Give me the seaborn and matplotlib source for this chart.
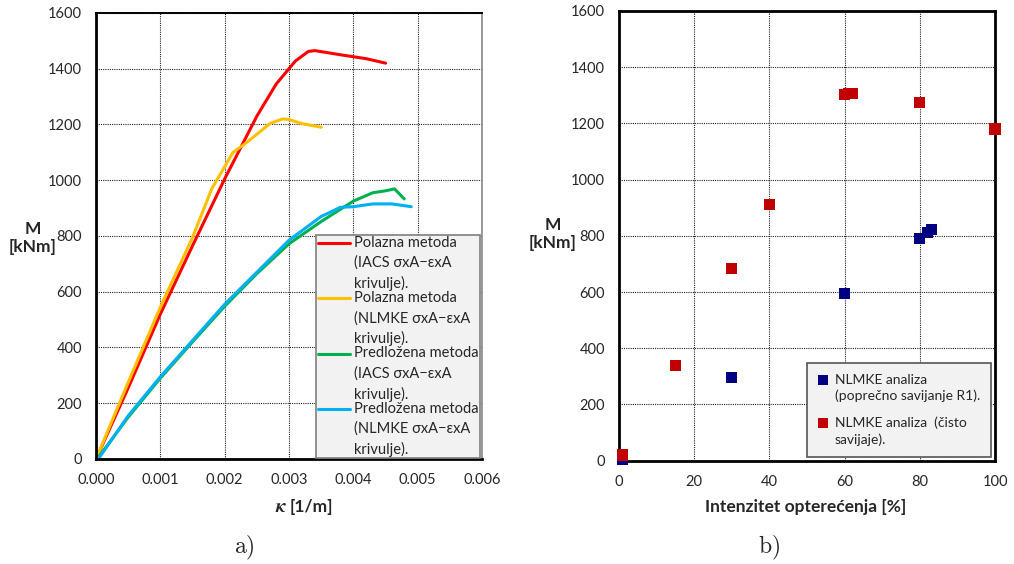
import numpy as np
import pandas as pd
import matplotlib
matplotlib.use("Agg")
import matplotlib.pyplot as plt
import seaborn as sns

# --- data (a) moment-curvature curves
red_k = [0.0, 0.0005, 0.001, 0.0015, 0.002, 0.0025, 0.0028, 0.0031, 0.0033, 0.0034, 0.0038, 0.0042, 0.0045]
red_m = [0, 255, 520, 765, 1005, 1230, 1345, 1428, 1462, 1465, 1450, 1436, 1420]
yel_k = [0.0, 0.0005, 0.001, 0.0015, 0.0018, 0.00213, 0.0023, 0.0025, 0.0027, 0.0029, 0.003, 0.0032, 0.0035]
yel_m = [0, 275, 545, 795, 970, 1100, 1128, 1165, 1203, 1220, 1218, 1203, 1190]
grn_k = [0.00005, 0.0005, 0.001, 0.0015, 0.002, 0.0025, 0.003, 0.0035, 0.004, 0.0043, 0.0045, 0.00464, 0.00479]
grn_m = [10, 150, 290, 420, 548, 665, 772, 852, 925, 955, 962, 969, 933]
cyn_k = [0.00006, 0.0005, 0.001, 0.0015, 0.002, 0.0025, 0.003, 0.0035, 0.0038, 0.004, 0.0043, 0.0046, 0.0049]
cyn_m = [8, 155, 295, 425, 555, 670, 785, 870, 903, 905, 915, 915, 905]

# --- (b) moment vs load intensity
blue_x = [1, 30, 60, 80, 82, 83]
blue_y = [5, 297, 595, 792, 813, 822]
redb_x = [1, 15, 30, 40, 60, 61, 62, 80, 100]
redb_y = [20, 340, 685, 912, 1302, 1305, 1308, 1275, 1180]

labels_a = [
    "Polazna metoda\n(IACS σxA\u2212εxA\nkrivulje).",
    "Polazna metoda\n(NLMKE σxA\u2212εxA\nkrivulje).",
    "Predložena metoda\n(IACS σxA\u2212εxA\nkrivulje).",
    "Predložena metoda\n(NLMKE σxA\u2212εxA\nkrivulje).",
]
colors_a = ["#ff0000", "#ffc000", "#00b050", "#00b0f0"]
labels_b = ["NLMKE analiza\n(poprečno savijanje R1).", "NLMKE analiza  (čisto\nsavijaje)."]
colors_b = ["#000080", "#c00000"]

sns.set_style("white")
plt.rcParams["font.family"] = ["Lato", "DejaVu Sans"]
plt.rcParams["mathtext.fontset"] = "cm"

fig = plt.figure(figsize=(10.14, 5.64), dpi=100)
ax1 = fig.add_axes([0.0947, 0.1862, 0.3807, 0.7908])
ax2 = fig.add_axes([0.6105, 0.1832, 0.3708, 0.7973])

series = [(red_k, red_m), (yel_k, yel_m), (grn_k, grn_m), (cyn_k, cyn_m)]
for (k, m), lab, col in zip(series, labels_a, colors_a):
    df = pd.DataFrame({"k": k, "M": m})
    sns.lineplot(data=df, x="k", y="M", ax=ax1, color=col, lw=2.2, sort=False, label=lab)

for (x, y), lab, col in zip([(blue_x, blue_y), (redb_x, redb_y)], labels_b, colors_b):
    df = pd.DataFrame({"x": x, "y": y})
    sns.scatterplot(data=df, x="x", y="y", ax=ax2, color=col, marker="s", s=64,
                    edgecolor="none", label=lab, zorder=3, clip_on=False)

def style(ax):
    ax.set_ylim(0, 1600)
    ax.set_yticks(range(0, 1601, 200))
    ax.grid(True, ls=(0, (1, 1)), color="#222222", lw=0.8)
    ax.tick_params(length=0, labelsize=10.5, pad=10)
    for s in ax.spines.values():
        s.set_color("black")
        s.set_linewidth(2)
    ax.set_ylabel("")
    ax.set_xlabel("")

style(ax1)
ax1.set_xlim(0, 0.006)
ax1.set_xticks(np.arange(0, 0.0061, 0.001))
ax1.set_xticklabels([f"{v:.3f}" for v in np.arange(0, 0.0061, 0.001)])
ax1.spines["right"].set_color("#888888")
ax1.spines["right"].set_linewidth(1.2)
ax1.spines["top"].set_linewidth(1.4)

style(ax2)
ax2.set_xlim(0, 100)
ax2.set_xticks(range(0, 101, 20))

fs1, ls1 = 10.5, 1.5
leg1 = ax1.legend(loc="lower right", bbox_to_anchor=(0.995, 0.002), fontsize=fs1,
                  handlelength=2.2, handletextpad=0.3, labelspacing=0.0,
                  borderpad=0.1, fancybox=False, framealpha=1, borderaxespad=0)
leg1.get_frame().set_facecolor("#f2f2f2")
leg1.get_frame().set_edgecolor("#7f7f7f")
leg1.get_frame().set_linewidth(1.2)
for t in leg1.get_texts():
    t.set_linespacing(ls1)
# put each line handle next to the first line of its label
for ln in leg1.get_lines():
    ln.set_ydata(np.asarray(ln.get_ydata()) + fs1 * ls1 * 0.95)

fs2, ls2 = 10, 1.35
leg2 = ax2.legend(loc="lower right", bbox_to_anchor=(0.989, 0.009), fontsize=fs2,
                  handlelength=0.8, handletextpad=0.4, labelspacing=1.05,
                  borderpad=0.8, fancybox=False, framealpha=1, borderaxespad=0,
                  markerscale=0.9)
leg2.get_frame().set_facecolor("#f2f2f2")
leg2.get_frame().set_edgecolor("#555555")
leg2.get_frame().set_linewidth(1.2)
for t in leg2.get_texts():
    t.set_linespacing(ls2)
for h in leg2.legend_handles:
    h.set_offsets(np.asarray(h.get_offsets()) + [0, fs2 * ls2 * 0.5])

# axis labels
fig.text(33 / 1014, 1 - 238 / 564, "M\n[kNm]", ha="center", va="center",
         fontsize=12.5, fontweight="bold", linespacing=1.15)
fig.text(553 / 1014, 1 - 234 / 564, "M\n[kNm]", ha="center", va="center",
         fontsize=12.5, fontweight="bold", linespacing=1.15)
fig.text(287 / 1014, 1 - 507 / 564, r"$\boldsymbol{\kappa}$", ha="right", va="center",
         fontsize=14)
fig.text(290 / 1014, 1 - 507 / 564, "[1/m]", ha="left", va="center",
         fontsize=12.5, fontweight="bold")
fig.text(806 / 1014, 1 - 507 / 564, "Intenzitet opterećenja [%]", ha="center", va="center",
         fontsize=12.5, fontweight="bold")
fig.text(244 / 1014, 1 - 548 / 564, r"$\mathrm{a)}$", ha="center", va="center", fontsize=17)
fig.text(769 / 1014, 1 - 548 / 564, r"$\mathrm{b)}$", ha="center", va="center", fontsize=17)

fig.savefig("out.png", dpi=100)
